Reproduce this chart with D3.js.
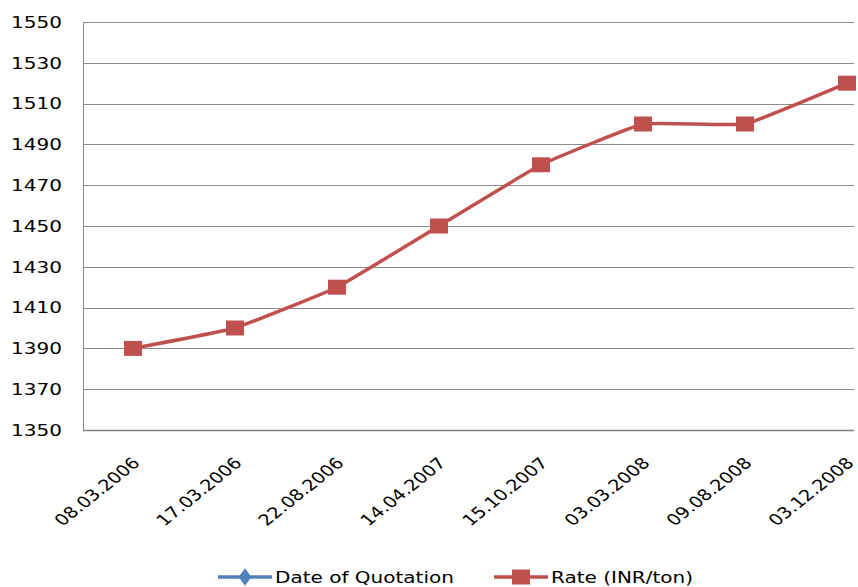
<!DOCTYPE html>
<html>
<head>
<meta charset="utf-8">
<script src="https://cdn.jsdelivr.net/npm/d3@7"></script>
<style>
  html, body { margin: 0; padding: 0; background: #fff; }
  svg { display: block; }
  text { font-family: "DejaVu Sans", Verdana, sans-serif; fill: #000; }
</style>
</head>
<body>
<svg id="chart" width="858" height="587"></svg>
<script>
// Quotation dates and the rate quoted on each
const dates = ["08.03.2006", "17.03.2006", "22.08.2006", "14.04.2007",
               "15.10.2007", "03.03.2008", "09.08.2008", "03.12.2008"];
const rates = [1390, 1400, 1420, 1450, 1480, 1500, 1500, 1520];
const yTicks = [1350, 1370, 1390, 1410, 1430, 1450, 1470, 1490, 1510, 1530, 1550];
const seriesNames = ["Date of Quotation", "Rate (INR/ton)"];
const seriesColors = ["#4F81BD", "#C0504D"];

const svg = d3.select("#chart");
const plotLeft = 83, gridRight = 854, plotTop = 22, plotBottom = 430;
const sx = 1.25; // horizontal stretch of the whole drawing

const x = d3.scaleBand().domain(dates).range([82, 898]);
const y = d3.scaleLinear().domain([1350, 1550]).range([plotBottom, plotTop]);
const cx = d => x(d) + x.bandwidth() / 2;

// horizontal gridlines
svg.append("g").selectAll("line").data(yTicks.slice(1)).join("line")
  .attr("x1", plotLeft).attr("x2", gridRight)
  .attr("y1", d => Math.round(y(d)) + 0.5).attr("y2", d => Math.round(y(d)) + 0.5)
  .attr("stroke", "#8c8c8c").attr("stroke-width", 1);

// axis lines
svg.append("line").attr("x1", plotLeft + 0.5).attr("x2", plotLeft + 0.5)
  .attr("y1", plotTop).attr("y2", plotBottom + 1)
  .attr("stroke", "#8c8c8c").attr("stroke-width", 1);
svg.append("line").attr("x1", plotLeft).attr("x2", gridRight)
  .attr("y1", plotBottom + 0.5).attr("y2", plotBottom + 0.5)
  .attr("stroke", "#808080").attr("stroke-width", 1.6);

// y tick labels
svg.append("g").selectAll("text").data(yTicks).join("text")
  .attr("transform", d => `translate(62,${y(d)}) scale(${sx},1)`)
  .attr("dy", "0.36em").attr("text-anchor", "end")
  .attr("font-size", 16)
  .text(d => d);

// x tick labels, rotated
svg.append("g").selectAll("text").data(dates).join("text")
  .attr("text-anchor", "end").attr("font-size", 15.5)
  .attr("transform", d => `translate(${cx(d) + 8},464) scale(${sx},1) rotate(-45)`)
  .text(d => d);

// rate line, lightly smoothed
const line = d3.line().x((d, i) => cx(dates[i])).y(d => y(d)).curve(d3.curveCardinal.tension(0.7));
svg.append("path").datum(rates)
  .attr("d", line).attr("fill", "none")
  .attr("stroke", seriesColors[1]).attr("stroke-width", 3.5);

// square markers
svg.append("g").selectAll("rect").data(rates).join("rect")
  .attr("x", (d, i) => cx(dates[i]) - 9).attr("y", d => y(d) - 7.5)
  .attr("width", 18).attr("height", 15)
  .attr("fill", seriesColors[1]);

// legend
const legendY = 577;
const legendX = [218, 494];
seriesNames.forEach((name, i) => {
  const g = svg.append("g").attr("transform", `translate(${legendX[i]},${legendY})`);
  g.append("line").attr("x1", 0).attr("x2", 54).attr("y1", 0).attr("y2", 0)
    .attr("stroke", seriesColors[i]).attr("stroke-width", 3.5);
  if (i === 0) {
    g.append("path").attr("d", d3.symbol(d3.symbolDiamond, 90)())
      .attr("transform", `translate(27,0) scale(${sx},1)`).attr("fill", seriesColors[i]);
  } else {
    g.append("rect").attr("x", 18).attr("y", -7.5).attr("width", 18).attr("height", 15)
      .attr("fill", seriesColors[i]);
  }
  g.append("text").attr("transform", `translate(57,0) scale(${sx},1)`).attr("dy", "0.36em")
    .attr("font-size", 16).text(name);
});
</script>
</body>
</html>
